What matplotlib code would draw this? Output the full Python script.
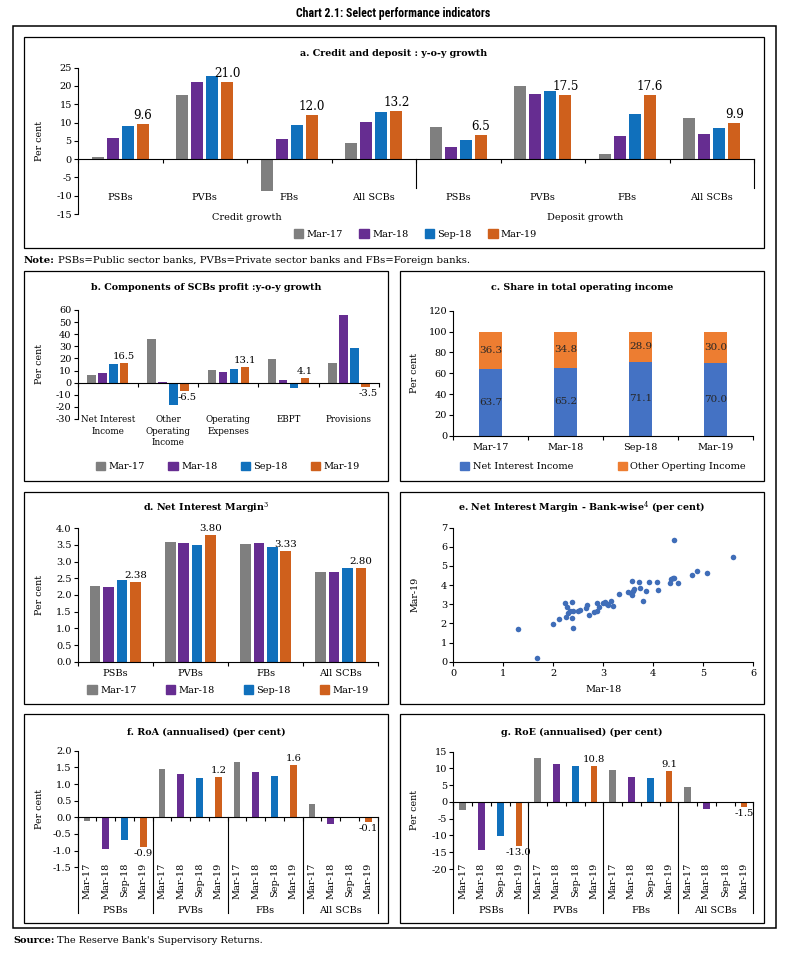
import numpy as np
import matplotlib
matplotlib.use('Agg')
import matplotlib.pyplot as plt
import matplotlib.transforms as mtrans
from matplotlib.patches import Rectangle, Patch
from matplotlib.lines import Line2D

# ---------------- data ----------------
periods = ['Mar-17', 'Mar-18', 'Sep-18', 'Mar-19']
banks = ['PSBs', 'PVBs', 'FBs', 'All SCBs']

# a. Credit and deposit growth (first 4 = credit, last 4 = deposit)
a_groups = ['Credit growth', 'Deposit growth']
a_mar17 = [0.6, 17.6, -8.7, 4.4, 8.9, 20.1, 1.4, 11.2]
a_mar18 = [5.9, 21.2, 5.5, 10.1, 3.3, 17.8, 6.3, 6.8]
a_sep18 = [9.1, 22.6, 9.3, 13.0, 5.1, 18.5, 12.3, 8.6]
a_mar19 = [9.6, 21.0, 12.0, 13.2, 6.5, 17.5, 17.6, 9.9]

# b. Components of SCBs profit
b_cats = ['Net Interest\nIncome', 'Other\nOperating\nIncome', 'Operating\nExpenses', 'EBPT', 'Provisions']
b_mar17 = [6.1, 36.3, 10.7, 19.8, 16.0]
b_mar18 = [7.7, 0.8, 8.8, 2.2, 55.6]
b_sep18 = [15.4, -18.4, 11.6, -4.1, 28.9]
b_mar19 = [16.5, -6.5, 13.1, 4.1, -3.5]

# c. Share in total operating income
c_nii = [63.7, 65.2, 71.1, 70.0]
c_ooi = [36.3, 34.8, 28.9, 30.0]
c_series = ['Net Interest Income', 'Other Operting Income']

# d. Net interest margin
d_mar17 = [2.28, 3.58, 3.53, 2.68]
d_mar18 = [2.25, 3.57, 3.55, 2.68]
d_sep18 = [2.44, 3.49, 3.43, 2.81]
d_mar19 = [2.38, 3.80, 3.33, 2.80]

# e. Bank-wise NIM
e_mar18 = [1.29, 1.68, 1.99, 2.12, 2.23, 2.25, 2.30, 2.28, 2.37, 2.37, 2.39, 2.33, 2.40,
           2.50, 2.53, 2.65, 2.68, 2.71, 2.81, 2.87, 2.88, 2.92, 2.99, 3.03, 3.07, 3.10,
           3.15, 3.19, 3.31, 3.50, 3.55, 3.58, 3.60, 3.61, 3.57, 3.72, 3.73, 3.85, 3.80,
           3.91, 4.08, 4.09, 4.33, 4.35, 4.39, 4.42, 4.49, 4.42, 4.77, 4.87, 5.07, 5.60]
e_mar19 = [1.69, 0.17, 1.97, 2.21, 3.05, 2.35, 2.53, 2.84, 3.14, 2.26, 1.74, 2.65, 2.65,
           2.65, 2.70, 2.79, 2.96, 2.46, 2.58, 2.67, 3.05, 2.87, 3.08, 3.10, 3.01, 2.96,
           3.19, 2.93, 3.54, 3.64, 3.57, 3.48, 3.69, 3.80, 4.23, 4.15, 3.87, 3.71, 3.19,
           4.16, 4.16, 3.76, 4.09, 4.30, 4.36, 4.39, 4.13, 6.36, 4.55, 4.76, 4.62, 5.49]

# f. RoA (order: PSBs, PVBs, FBs, All SCBs)
f_mar17 = [-0.10, 1.45, 1.66, 0.40]
f_mar18 = [-0.94, 1.30, 1.36, -0.20]
f_sep18 = [-0.68, 1.18, 1.24, -0.01]
f_mar19 = [-0.88, 1.20, 1.57, -0.13]

# g. RoE
g_mar17 = [-2.5, 13.2, 9.6, 4.6]
g_mar18 = [-14.4, 11.4, 7.5, -2.2]
g_sep18 = [-10.3, 10.6, 7.2, -0.2]
g_mar19 = [-13.0, 10.8, 9.1, -1.5]

# ---------------- style ----------------
W, H = 785, 955
FS = 7
plt.rcParams['font.family'] = ['DejaVu Serif']
plt.rcParams['font.size'] = FS
plt.rcParams['mathtext.fontset'] = 'dejavuserif'
plt.rcParams['axes.linewidth'] = 0.8
plt.rcParams['axes.unicode_minus'] = False
colors = ['#7F7F7F', '#662D91', '#1070BC', '#CF601C']
c_colors = ['#4472C4', '#ED7D31']

fig = plt.figure(figsize=(W / 100, H / 100), dpi=100)


def prect(x0, yt, x1, yb):
    return [x0 / W, 1 - yb / H, (x1 - x0) / W, (yb - yt) / H]


def box(x0, y0, x1, y1, lw=0.9):
    fig.add_artist(Rectangle((x0 / W, 1 - y1 / H), (x1 - x0) / W, (y1 - y0) / H,
                             transform=fig.transFigure, fill=False, lw=lw, ec='black'))


def ftext(px, py, s, **kw):
    return fig.text(px / W, 1 - py / H, s, **kw)


def make_ax(x0, yt, x1, yb):
    ax = fig.add_axes(prect(x0, yt, x1, yb))
    ax.set_facecolor('none')
    for s in ['top', 'right']:
        ax.spines[s].set_visible(False)
    ax.tick_params(axis='both', length=3, width=0.8, pad=1.5, labelsize=FS, colors='black')
    tr = mtrans.blended_transform_factory(ax.transData, ax.transAxes)
    fy = lambda py: (yb - py) / (yb - yt)
    fx = lambda px: (px - x0) / (x1 - x0)
    return ax, tr, fx, fy


def ylabel(ax, fx, px, s):
    ax.text(fx(px), 0.5, s, transform=ax.transAxes, rotation=90, ha='center', va='center',
            fontsize=6.8)


def legend(handles, labels, cx, cy, cs):
    fig.legend(handles, labels, loc='center', bbox_to_anchor=(cx / W, 1 - cy / H),
               ncol=len(labels), frameon=False, fontsize=FS, handlelength=0.95,
               handleheight=0.95, handletextpad=0.35, columnspacing=cs, borderpad=0,
               borderaxespad=0)


def bar_label(ax, x, v, fmt, size, dx=0):
    ax.annotate(fmt.format(v), (x, v), xytext=(dx, 1.5 if v >= 0 else -1.5),
                textcoords='offset points', ha='center',
                va='bottom' if v >= 0 else 'top', fontsize=size)


SP, BW = 0.178, 0.14

# ---------------- boxes & titles ----------------
box(13, 26, 776, 928, lw=1.1)
box(24, 37, 764, 248)
box(24, 271, 388, 481)
box(400, 271, 764, 481)
box(24, 492, 388, 704)
box(400, 492, 764, 704)
box(24, 714, 388, 923)
box(400, 714, 764, 923)

ftext(393, 13, 'Chart 2.1: Select performance indicators', ha='center', va='center',
      fontsize=8.6, weight='bold', family=['Roboto Condensed', 'Lato', 'DejaVu Sans'])
TT = dict(ha='center', va='center', fontsize=6.85, weight='bold')
ftext(394, 54, 'a. Credit and deposit : y-o-y growth', **TT)
ftext(206, 287, 'b. Components of SCBs profit :y-o-y growth', **TT)
ftext(582, 287, 'c. Share in total operating income', **TT)
ftext(206, 508, r'd. Net Interest Margin$^{3}$', **TT)
ftext(582, 508, r'e. Net Interest Margin - Bank-wise$^{4}$ (per cent)', **TT)
ftext(206, 732, 'f. RoA (annualised) (per cent)', **TT)
ftext(582, 732, 'g. RoE (annualised) (per cent)', **TT)

# ---------------- panel a ----------------
ax, tr, fx, fy = make_ax(78, 67.7, 754, 214)
xa = np.arange(8)
for i, vals in enumerate([a_mar17, a_mar18, a_sep18, a_mar19]):
    ax.bar(xa + (i - 1.5) * SP, vals, BW, color=colors[i], label=periods[i], zorder=2)
for x, v in zip(xa + 1.5 * SP, a_mar19):
    bar_label(ax, x, v, '{:.1f}', 8.6)
ax.set_xlim(-0.5, 7.5)
ax.set_ylim(-15, 25)
ax.set_yticks(np.arange(-15, 26, 5))
ax.spines['bottom'].set_position(('data', 0))
ax.set_xticks(np.arange(-0.5, 8, 1))
ax.set_xticklabels([])
y0 = fy(159.3)
for xs in [3.5, 7.5]:
    ax.add_line(Line2D([xs, xs], [y0, fy(188)], transform=tr, clip_on=False, color='black', lw=0.8))
for i in range(8):
    ax.text(i, fy(197), banks[i % 4], transform=tr, ha='center', va='center')
for g, name in enumerate(a_groups):
    ax.text(g * 4 + 1.5, fy(218), name, transform=tr, ha='center', va='center')
ylabel(ax, fx, 39, 'Per cent')
h = [Patch(color=c) for c in colors]
legend(h, periods, 415.5, 234, 1.7)

# ---------------- panel b ----------------
ax, tr, fx, fy = make_ax(77.7, 310, 379, 419)
xb = np.arange(5)
for i, vals in enumerate([b_mar17, b_mar18, b_sep18, b_mar19]):
    ax.bar(xb + (i - 1.5) * 0.182, vals, BW, color=colors[i], zorder=2)
for x, v in zip(xb + 1.5 * 0.182, b_mar19):
    bar_label(ax, x, v, '{:.1f}', 7.2, dx=2 if v < 0 else 0)
ax.set_xlim(-0.5, 4.5)
ax.set_ylim(-30, 60)
ax.set_yticks(np.arange(-30, 61, 10))
ax.spines['bottom'].set_position(('data', 0))
ax.set_xticks(np.arange(-0.5, 5, 1))
ax.set_xticklabels([])
for i, c in enumerate(b_cats):
    ax.text(i, fy(415.5), c, transform=tr, ha='center', va='top', linespacing=1.35,
            fontsize=6.3)
ylabel(ax, fx, 39.3, 'Per cent')
legend(h, periods, 228, 466.7, 2.4)

# ---------------- panel c ----------------
ax, tr, fx, fy = make_ax(453.3, 310.7, 753, 435.7)
xc = np.arange(4)
ax.bar(xc, c_nii, 0.31, color=c_colors[0], zorder=2)
ax.bar(xc, c_ooi, 0.31, bottom=c_nii, color=c_colors[1], zorder=2)
for x, a, b in zip(xc, c_nii, c_ooi):
    ax.text(x, a / 2, f'{a:.1f}', ha='center', va='center', fontsize=7.5, color='#262626')
    ax.text(x, a + b / 2, f'{b:.1f}', ha='center', va='center', fontsize=7.5, color='#262626')
ax.set_xlim(-0.5, 3.5)
ax.set_ylim(0, 120)
ax.set_yticks(np.arange(0, 121, 20))
ax.set_xticks(xc)
ax.set_xticklabels(periods)
ax.set_xticks(np.arange(-0.5, 4, 1), minor=True)
ax.tick_params(axis='x', which='major', length=0, pad=5)
ax.tick_params(axis='x', which='minor', length=3, width=0.8)
ylabel(ax, fx, 415, 'Per cent')
legend([Patch(color=c) for c in c_colors], c_series, 603, 466.7, 4.6)

# ---------------- panel d ----------------
ax, tr, fx, fy = make_ax(77.7, 528.3, 378.3, 661.7)
xd = np.arange(4)
for i, vals in enumerate([d_mar17, d_mar18, d_sep18, d_mar19]):
    ax.bar(xd + (i - 1.5) * SP, vals, BW, color=colors[i], zorder=2)
for x, v in zip(xd + 1.5 * SP, d_mar19):
    bar_label(ax, x, v, '{:.2f}', 7.4)
ax.set_xlim(-0.5, 3.5)
ax.set_ylim(0, 4)
ax.set_yticks(np.arange(0, 4.01, 0.5))
ax.yaxis.set_major_formatter('{x:.1f}')
ax.set_xticks(xd)
ax.set_xticklabels(banks)
ax.set_xticks(np.arange(-0.5, 4, 1), minor=True)
ax.tick_params(axis='x', which='major', length=0, pad=5)
ax.tick_params(axis='x', which='minor', length=3, width=0.8)
ylabel(ax, fx, 39.3, 'Per cent')
legend(h, periods, 228, 690, 3.0)

# ---------------- panel e ----------------
ax, tr, fx, fy = make_ax(453.3, 527.7, 753.3, 661.7)
ax.scatter(e_mar18, e_mar19, s=16, color='#3F6DB8', zorder=3, linewidths=0)
ax.set_xlim(0, 6)
ax.set_ylim(0, 7)
ax.set_xticks(range(0, 7))
ax.set_yticks(range(0, 8))
ax.tick_params(axis='x', pad=2)
ax.text(0.5, fy(689.3), 'Mar-18', transform=ax.transAxes, ha='center', va='center')
ylabel(ax, fx, 415, 'Mar-19')

# ---------------- panels f & g ----------------
def roa_panel(x0, yt, x1, yb, series, ylim, step, yfmt, lfmt, ylab_x, lab_top, grp_y, sep_y):
    ax, tr, fx, fy = make_ax(x0, yt, x1, yb)
    for i, vals in enumerate(series):
        xs = np.arange(4) * 4 + i
        ax.bar(xs, vals, 0.36, color=colors[i], zorder=2)
    for g, v in enumerate(series[3]):
        bar_label(ax, g * 4 + 3, v, lfmt, 7.2)
    ax.set_xlim(-0.5, 15.5)
    ax.set_ylim(*ylim)
    ax.set_yticks(np.arange(ylim[0], ylim[1] + step / 2, step))
    ax.yaxis.set_major_formatter(yfmt)
    ax.spines['bottom'].set_position(('data', 0))
    ax.set_xticks(np.arange(-0.5, 16, 1))
    ax.set_xticklabels([])
    zero = (0 - ylim[0]) / (ylim[1] - ylim[0])
    for xs in [-0.5, 3.5, 7.5, 11.5, 15.5]:
        ax.add_line(Line2D([xs, xs], [zero, fy(sep_y)], transform=tr, clip_on=False,
                           color='black', lw=0.8))
    for g in range(4):
        for i in range(4):
            ax.text(g * 4 + i, fy(lab_top), periods[i], transform=tr, rotation=90,
                    ha='center', va='top')
        ax.text(g * 4 + 1.5, fy(grp_y), banks[g], transform=tr, ha='center', va='center')
    ylabel(ax, fx, ylab_x, 'Per cent')
    return ax


roa_panel(77.7, 750.7, 377.7, 867.3, [f_mar17, f_mar18, f_sep18, f_mar19], (-1.5, 2.0), 0.5,
          '{x:.1f}', '{:.1f}', 39.3, 863, 910.7, 913)
roa_panel(453.3, 751.7, 753.3, 869, [g_mar17, g_mar18, g_sep18, g_mar19], (-20, 15), 5,
          '{x:.0f}', '{:.1f}', 415, 863, 910, 913)

# ---------------- note & source ----------------
fig.canvas.draw()
r = fig.canvas.get_renderer()
t1 = ftext(24, 260, 'Note:', weight='bold', va='center', ha='left', fontsize=7.3)
bb = t1.get_window_extent(r)
fig.text((bb.x1 + 3) / W, 1 - 260 / H,
         'PSBs=Public sector banks, PVBs=Private sector banks and FBs=Foreign banks.',
         va='center', ha='left', fontsize=7.3)
t2 = ftext(13, 940, 'Source:', weight='bold', va='center', ha='left')
bb = t2.get_window_extent(r)
fig.text((bb.x1 + 3) / W, 1 - 940 / H, "The Reserve Bank's Supervisory Returns.",
         va='center', ha='left')

fig.savefig('out.png', dpi=100, facecolor='white')
